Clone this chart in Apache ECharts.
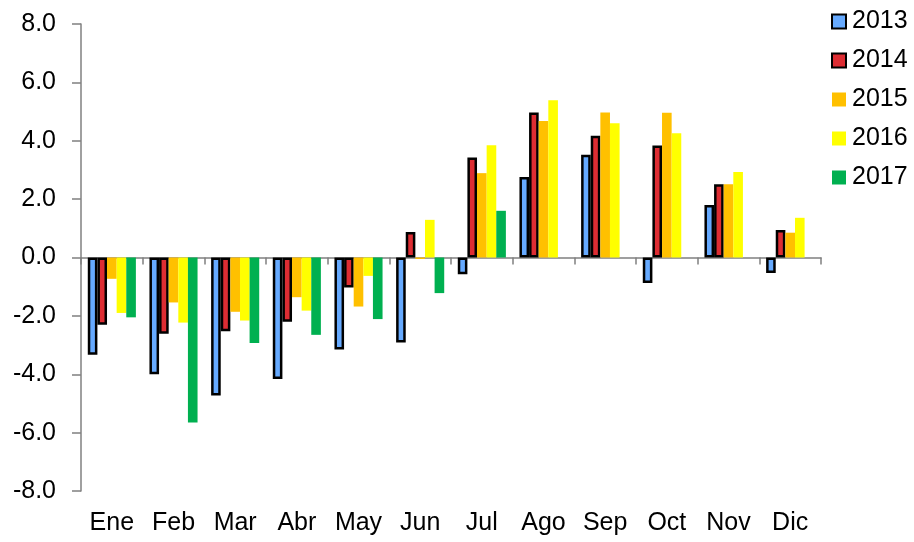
<!DOCTYPE html>
<html>
<head>
<meta charset="utf-8">
<script src="https://cdn.jsdelivr.net/npm/echarts@6/dist/echarts.min.js"></script>
<style>html,body{margin:0;padding:0;background:#fff}#c{width:914px;height:542px}</style>
</head>
<body>
<div id="c"></div>
<script>
var months = ['Ene','Feb','Mar','Abr','May','Jun','Jul','Ago','Sep','Oct','Nov','Dic'];
var yearNames = ['2013','2014','2015','2016','2017'];
var v2013 = [-3.33,-4.0,-4.73,-4.16,-3.15,-2.91,-0.57,2.76,3.52,-0.87,1.8,-0.53];
var v2014 = [-2.3,-2.61,-2.53,-2.2,-1.03,0.87,3.43,4.97,4.17,3.84,2.51,0.94];
var v2015 = [-0.73,-1.54,-1.86,-1.36,-1.68,-0.05,2.89,4.68,4.97,4.96,2.51,0.85];
var v2016 = [-1.9,-2.23,-2.16,-1.82,-0.63,1.29,3.85,5.39,4.6,4.26,2.93,1.36];
var v2017 = [-2.05,-5.65,-2.93,-2.65,-2.11,-1.22,1.6,null,null,null,null,null];
var yTicks = [-8,-6,-4,-2,0,2,4,6,8];

var colors = ['#66aaff','#dd2d33','#ffc000','#ffff00','#00b050'];
var borders = [true,true,false,false,false];
var values = [v2013,v2014,v2015,v2016,v2017];
var font = 'Liberation Sans, Arial, sans-serif';

var series = yearNames.map(function(n,i){
  return {
    name: n, type: 'bar', xAxisIndex: 0, data: values[i],
    barGap: '0%', barCategoryGap: '22%',
    itemStyle: borders[i] ? {color: colors[i], borderColor:'#000', borderWidth:2.5} : {color: colors[i], borderWidth:0}
  };
});

var chart = echarts.init(document.getElementById('c'));
chart.setOption({
  animation: false,
  textStyle: {fontFamily: font},
  grid: {left: 81, right: 93, top: 24, bottom: 51},
  legend: {
    orient: 'vertical', left: 826, top: 4, itemWidth: 14, itemHeight: 14, itemGap: 14,
    icon: 'rect',
    textStyle: {fontSize: 25, color: '#000', fontFamily: font, padding: [0,0,0,1]},
    data: yearNames
  },
  xAxis: [
    {type: 'category', data: months, position: 'bottom',
     axisLine: {show: false, onZero: false}, axisTick: {show: false},
     axisLabel: {fontSize: 25, color: '#000', margin: 20, interval: 0, fontFamily: font}},
    {type: 'category', data: months, position: 'bottom',
     axisLine: {show: true, onZero: true, lineStyle: {color: '#808080', width: 1.5}},
     axisTick: {show: true, length: 7, lineStyle: {color: '#808080', width: 1.5}},
     axisLabel: {show: false}}
  ],
  yAxis: {
    type: 'value', min: -8, max: 8, interval: 2,
    axisLine: {show: true, lineStyle: {color: '#808080', width: 1.5}},
    axisTick: {show: true, length: 9, lineStyle: {color: '#808080', width: 1.5}},
    splitLine: {show: false},
    axisLabel: {fontSize: 25, color: '#000', margin: 25, fontFamily: font,
      formatter: function(v){ return yTicks.indexOf(v) >= 0 ? v.toFixed(1) : ''; }}
  },
  series: series
});
</script>
</body>
</html>
